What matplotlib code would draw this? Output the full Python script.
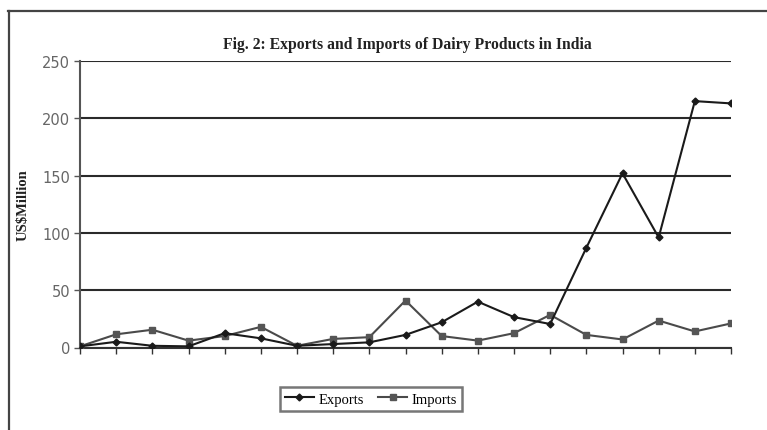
"""
Fig. 2 - Exports and Imports of Dairy Products in India (US$ Million).
Recreated from a scanned line chart: 19 unlabelled periods, two series.
"""
import matplotlib.pyplot as plt
from matplotlib.lines import Line2D

# values (US$ million)
exports = [1, 5, 1.5, 1, 12.5, 8, 1.5, 3, 4.5, 11, 22, 40, 26.5, 20.5,
           87, 152, 96, 215, 213]
imports = [1, 11.5, 15.5, 6, 10, 18, 1.5, 7.5, 9, 41, 10, 6, 12.5, 28.5,
           11, 7, 23.5, 14, 21]
yticks = [0, 50, 100, 150, 200, 250]

periods = list(range(len(exports)))

fig = plt.figure(figsize=(7.67, 4.31), dpi=100)
fig.patch.set_facecolor("white")

# scanned page frame (left + top edge)
fig.add_artist(Line2D([8.5 / 767, 8.5 / 767], [0, 1 - 12 / 431],
                      color="#444444", lw=1.6, transform=fig.transFigure))
fig.add_artist(Line2D([8 / 767, 1], [1 - 12 / 431, 1 - 12 / 431],
                      color="#444444", lw=1.6, transform=fig.transFigure))

ax = fig.add_axes([80 / 767, 1 - 348.5 / 431, 651 / 767, 286.5 / 431])

ax.plot(periods, exports, color="#1a1a1a", lw=1.5, marker="D", ms=3.5,
        mfc="#1a1a1a", mec="#1a1a1a", label="Exports", zorder=4)
ax.plot(periods, imports, color="#4a4a4a", lw=1.5, marker="s", ms=5,
        mfc="#555555", mec="#555555", label="Imports", zorder=3)

ax.set_xlim(0, len(exports) - 1)
ax.set_ylim(0, 250)
ax.set_yticks(yticks)
ax.set_xticks(periods)
ax.set_xticklabels([])
ax.yaxis.grid(True, color="#2a2a2a", lw=1.5)
ax.set_axisbelow(True)
ax.tick_params(axis="y", length=4, width=1, color="#555555",
               labelsize=10.5, labelcolor="#666666", pad=3)
ax.tick_params(axis="x", length=4, width=1, color="#333333", direction="out")
for side in ("top", "right"):
    ax.spines[side].set_visible(False)
ax.spines["left"].set_color("#555555")
ax.spines["left"].set_linewidth(1.5)
ax.spines["bottom"].set_color("#333333")
ax.spines["bottom"].set_linewidth(1.5)

ax.set_ylabel("US$Million", family="Liberation Serif", fontweight="bold",
              fontsize=10.5, color="#222222", labelpad=9)

fig.text(407 / 767, 1 - 45 / 431,
         "Fig. 2: Exports and Imports of Dairy Products in India",
         family="Liberation Serif", fontweight="bold", fontsize=11.3,
         ha="center", va="center", color="#222222")

leg = fig.legend(loc="center", bbox_to_anchor=(371 / 767, 1 - 400 / 431),
                 ncol=2, frameon=True, fancybox=False,
                 prop={"family": "Liberation Serif", "size": 10.5},
                 handlelength=2.0, handletextpad=0.3, columnspacing=1.0,
                 borderpad=0.35)
leg.get_frame().set_edgecolor("#555555")
leg.get_frame().set_linewidth(1.8)

fig.savefig("out.png", dpi=100)
